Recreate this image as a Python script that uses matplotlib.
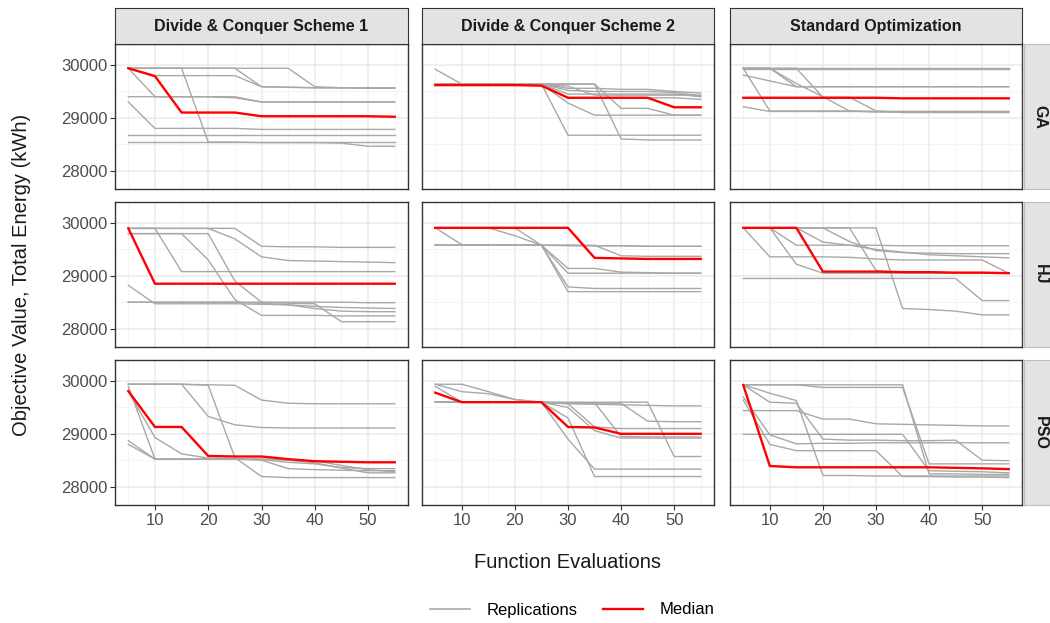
import matplotlib
matplotlib.use("Agg")
import matplotlib.pyplot as plt
from matplotlib.lines import Line2D

plt.rcParams['font.family'] = ['Liberation Sans', 'DejaVu Sans']

# function evaluations (x) shared by every facet
EVALS = [5, 10, 15, 20, 25, 30, 35, 40, 45, 50, 55]
SCHEMES = ["Divide & Conquer Scheme 1", "Divide & Conquer Scheme 2", "Standard Optimization"]
ALGOS = ["GA", "HJ", "PSO"]

# ---- GA ----
GA_DC1 = [
    [29940, 29940, 29940, 29940, 29940, 29590, 29580, 29570, 29570, 29570, 29570],
    [29940, 29940, 29940, 29940, 29940, 29940, 29940, 29590, 29570, 29560, 29560],
    [29940, 29940, 29940, 28540, 28540, 28530, 28530, 28530, 28520, 28460, 28460],
    [29940, 29800, 29800, 29800, 29800, 29590, 29580, 29570, 29570, 29570, 29570],
    [29400, 29400, 29400, 29400, 29380, 29300, 29300, 29300, 29300, 29300, 29300],
    [29300, 28800, 28800, 28800, 28800, 28780, 28780, 28780, 28780, 28780, 28780],
    [28670, 28670, 28670, 28670, 28670, 28670, 28670, 28670, 28670, 28670, 28670],
    [28550, 28550, 28550, 28550, 28550, 28550, 28550, 28550, 28550, 28550, 28550],
    [29940, 29400, 29400, 29400, 29400, 29300, 29300, 29300, 29300, 29300, 29300],
]
GA_DC1_MED = [29940, 29790, 29100, 29100, 29100, 29030, 29030, 29030, 29030, 29030, 29020]

GA_DC2 = [
    [29920, 29640, 29640, 29640, 29640, 29560, 29560, 29540, 29540, 29500, 29470],
    [29640, 29640, 29640, 29640, 29640, 28670, 28670, 28670, 28670, 28670, 28670],
    [29640, 29640, 29640, 29640, 29640, 29640, 29640, 28600, 28580, 28580, 28580],
    [29640, 29640, 29640, 29640, 29640, 29280, 29050, 29050, 29050, 29050, 29050],
    [29640, 29640, 29640, 29640, 29640, 29450, 29450, 29450, 29450, 29450, 29400],
    [29640, 29640, 29640, 29640, 29640, 29640, 29640, 29180, 29180, 29050, 29050],
    [29640, 29640, 29640, 29640, 29640, 29520, 29500, 29500, 29500, 29480, 29420],
    [29640, 29640, 29640, 29640, 29640, 29380, 29380, 29380, 29380, 29380, 29350],
    [29640, 29640, 29640, 29640, 29640, 29600, 29430, 29430, 29430, 29430, 29430],
]
GA_DC2_MED = [29620, 29620, 29620, 29620, 29610, 29380, 29380, 29380, 29380, 29200, 29200]

GA_SO = [
    [29940, 29940, 29940, 29940, 29940, 29940, 29940, 29940, 29940, 29940, 29940],
    [29930, 29930, 29930, 29930, 29930, 29930, 29930, 29930, 29930, 29930, 29930],
    [29940, 29940, 29590, 29590, 29590, 29590, 29590, 29590, 29590, 29590, 29590],
    [29810, 29700, 29590, 29590, 29590, 29590, 29590, 29590, 29590, 29590, 29590],
    [29940, 29130, 29130, 29130, 29130, 29120, 29120, 29120, 29120, 29120, 29120],
    [29210, 29120, 29120, 29120, 29120, 29120, 29120, 29120, 29120, 29120, 29120],
    [29940, 29940, 29650, 29400, 29130, 29110, 29110, 29110, 29110, 29110, 29110],
    [29940, 29940, 29940, 29390, 29390, 29130, 29100, 29100, 29100, 29100, 29100],
]
GA_SO_MED = [29380, 29380, 29380, 29380, 29380, 29380, 29370, 29370, 29370, 29370, 29370]

# ---- HJ ----
HJ_DC1 = [
    [29900, 29900, 29900, 29900, 29900, 29560, 29550, 29550, 29540, 29540, 29540],
    [29900, 29900, 29900, 29900, 29700, 29360, 29290, 29280, 29270, 29260, 29250],
    [29800, 29800, 29800, 29300, 28550, 28250, 28250, 28250, 28240, 28240, 28240],
    [29900, 29900, 29080, 29080, 29080, 29080, 29080, 29080, 29080, 29080, 29080],
    [28500, 28500, 28500, 28500, 28500, 28500, 28500, 28500, 28500, 28490, 28490],
    [28820, 28470, 28470, 28470, 28470, 28460, 28450, 28420, 28400, 28390, 28380],
    [29800, 29800, 29800, 29800, 28900, 28500, 28480, 28470, 28130, 28130, 28130],
    [28500, 28500, 28500, 28500, 28500, 28480, 28450, 28380, 28330, 28320, 28320],
]
HJ_DC1_MED = [29900, 28850, 28850, 28850, 28850, 28850, 28850, 28850, 28850, 28850, 28850]

HJ_DC2 = [
    [29580, 29580, 29580, 29580, 29580, 29580, 29570, 29570, 29560, 29560, 29560],
    [29910, 29590, 29580, 29580, 29580, 29570, 29570, 29570, 29560, 29560, 29560],
    [29910, 29910, 29910, 29760, 29580, 29140, 29140, 29070, 29060, 29050, 29050],
    [29910, 29910, 29910, 29910, 29580, 29050, 29050, 29050, 29050, 29050, 29050],
    [29580, 29580, 29580, 29580, 29580, 28790, 28760, 28760, 28760, 28760, 28760],
    [29580, 29580, 29580, 29580, 29580, 28700, 28700, 28700, 28700, 28700, 28700],
    [29580, 29580, 29580, 29580, 29580, 29580, 29580, 29380, 29370, 29370, 29370],
]
HJ_DC2_MED = [29910, 29910, 29910, 29910, 29910, 29910, 29340, 29330, 29320, 29320, 29320]

HJ_SO = [
    [29910, 29360, 29360, 29360, 29350, 29320, 29300, 29300, 29300, 29300, 29050],
    [29910, 29910, 29580, 29580, 29580, 29580, 29570, 29570, 29570, 29570, 29570],
    [29910, 29910, 29220, 29050, 29050, 29050, 29050, 29050, 29050, 29050, 29050],
    [29910, 29910, 29910, 29910, 29650, 29480, 29440, 29430, 29420, 29420, 29420],
    [29910, 29910, 29910, 29910, 29910, 29100, 29060, 29060, 29060, 29060, 29060],
    [29910, 29910, 29910, 29910, 29910, 29910, 28380, 28360, 28330, 28260, 28260],
    [28950, 28950, 28950, 28950, 28950, 28950, 28950, 28950, 28950, 28530, 28530],
    [29910, 29910, 29910, 29640, 29580, 29500, 29450, 29400, 29380, 29360, 29340],
]
HJ_SO_MED = [29910, 29910, 29910, 29080, 29080, 29080, 29070, 29070, 29060, 29060, 29050]

# ---- PSO ----
PSO_DC1 = [
    [29940, 29940, 29940, 29930, 29920, 29640, 29580, 29570, 29570, 29570, 29570],
    [29940, 29940, 29940, 29330, 29170, 29120, 29110, 29110, 29110, 29110, 29110],
    [29940, 29940, 29940, 29920, 28550, 28190, 28170, 28170, 28170, 28170, 28170],
    [29900, 28520, 28520, 28520, 28520, 28500, 28340, 28320, 28310, 28300, 28300],
    [28870, 28520, 28520, 28520, 28520, 28520, 28510, 28490, 28400, 28320, 28280],
    [28800, 28520, 28520, 28520, 28520, 28520, 28500, 28450, 28350, 28260, 28260],
    [29800, 28930, 28620, 28540, 28530, 28510, 28460, 28430, 28360, 28340, 28340],
]
PSO_DC1_MED = [29810, 29130, 29130, 28580, 28570, 28570, 28520, 28480, 28470, 28460, 28460]

PSO_DC2 = [
    [29940, 29940, 29800, 29650, 29600, 29570, 29560, 29550, 29540, 29530, 29530],
    [29940, 29800, 29760, 29650, 29600, 29580, 29580, 29580, 29240, 29230, 29230],
    [29600, 29600, 29600, 29600, 29600, 29600, 29600, 29600, 29600, 28570, 28570],
    [29600, 29600, 29600, 29600, 29600, 29570, 29130, 29100, 29100, 29100, 29100],
    [29600, 29600, 29600, 29600, 29600, 29500, 29060, 28920, 28920, 28920, 28920],
    [29600, 29600, 29600, 29600, 29600, 28900, 28330, 28330, 28330, 28330, 28330],
    [29600, 29600, 29600, 29600, 29600, 29300, 28190, 28190, 28190, 28190, 28190],
    [29900, 29600, 29600, 29600, 29600, 29590, 29590, 28950, 28940, 28940, 28940],
]
PSO_DC2_MED = [29780, 29600, 29600, 29600, 29600, 29130, 29120, 29000, 29000, 29000, 29000]

PSO_SO = [
    [29930, 29930, 29930, 29880, 29880, 29880, 29880, 28430, 28430, 28430, 28430],
    [29930, 29930, 29930, 29930, 29930, 29930, 29930, 28240, 28240, 28230, 28230],
    [29930, 29770, 29630, 28210, 28210, 28200, 28200, 28200, 28200, 28200, 28200],
    [29440, 29440, 29440, 29280, 29280, 29190, 29180, 29170, 29160, 29150, 29150],
    [28990, 28990, 28990, 28990, 28990, 28990, 28990, 28300, 28290, 28280, 28260],
    [29640, 28800, 28680, 28680, 28680, 28680, 28190, 28190, 28180, 28180, 28170],
    [29930, 29600, 29580, 28900, 28880, 28880, 28870, 28870, 28880, 28500, 28490],
    [29700, 28980, 28810, 28820, 28820, 28830, 28830, 28830, 28830, 28830, 28830],
]
PSO_SO_MED = [29925, 28390, 28365, 28365, 28365, 28365, 28365, 28365, 28355, 28345, 28330]

REPS = {
    ("GA", 0): GA_DC1, ("GA", 1): GA_DC2, ("GA", 2): GA_SO,
    ("HJ", 0): HJ_DC1, ("HJ", 1): HJ_DC2, ("HJ", 2): HJ_SO,
    ("PSO", 0): PSO_DC1, ("PSO", 1): PSO_DC2, ("PSO", 2): PSO_SO,
}
MEDS = {
    ("GA", 0): GA_DC1_MED, ("GA", 1): GA_DC2_MED, ("GA", 2): GA_SO_MED,
    ("HJ", 0): HJ_DC1_MED, ("HJ", 1): HJ_DC2_MED, ("HJ", 2): HJ_SO_MED,
    ("PSO", 0): PSO_DC1_MED, ("PSO", 1): PSO_DC2_MED, ("PSO", 2): PSO_SO_MED,
}

W, H = 1050, 623
fig = plt.figure(figsize=(W / 100, H / 100), dpi=100)


def rect(x0, y0, x1, y1):
    return [x0 / W, 1 - y1 / H, (x1 - x0) / W, (y1 - y0) / H]


COLS = [(115, 408), (422, 714), (730, 1022)]
ROWS = [(44, 189), (202, 347), (360, 505)]
STRIP_TOP = (8, 44)
STRIP_RIGHT = (1024, 1056)   # runs a bit off the right edge like the reference
GREY = '#a8a8a8'
BORDER = '#333333'
STRIP_BG = '#e3e3e3'

for r, algo in enumerate(ALGOS):
    for c in range(3):
        x0, x1 = COLS[c]
        y0, y1 = ROWS[r]
        ax = fig.add_axes(rect(x0, y0, x1, y1))
        for rep in REPS[(algo, c)]:
            ax.plot(EVALS, rep, color=GREY, lw=1.0, zorder=2)
        ax.plot(EVALS, MEDS[(algo, c)], color='#ff0000', lw=1.7, zorder=3)

        ax.set_xlim(2.5, 57.5)
        ax.set_ylim(27650, 30400)
        ax.set_xticks([10, 20, 30, 40, 50])
        ax.set_xticks([5, 15, 25, 35, 45, 55], minor=True)
        ax.set_yticks([28000, 29000, 30000])
        ax.set_yticks([28500, 29500], minor=True)
        ax.grid(True, which='major', color='#ebebeb', lw=1.1, zorder=0)
        ax.grid(True, which='minor', color='#f3f3f3', lw=0.6, zorder=0)
        ax.set_axisbelow(True)
        for s in ax.spines.values():
            s.set_color(BORDER)
            s.set_linewidth(1.0)
        ax.tick_params(which='minor', length=0)
        ax.tick_params(which='major', length=3.5, color=BORDER, labelsize=12,
                       labelcolor='#4d4d4d', pad=2)
        if c != 0:
            ax.tick_params(axis='y', left=False, labelleft=False)
        if r != 2:
            ax.tick_params(axis='x', bottom=False, labelbottom=False)

        # column strips on top
        if r == 0:
            sax = fig.add_axes(rect(x0, STRIP_TOP[0], x1, STRIP_TOP[1]))
            sax.set_facecolor(STRIP_BG)
            sax.set_xticks([])
            sax.set_yticks([])
            for s in sax.spines.values():
                s.set_color(BORDER)
            sax.text(0.5, 0.5, SCHEMES[c], ha='center', va='center',
                     fontsize=11.5, fontweight='bold', color='#1a1a1a',
                     transform=sax.transAxes)

    # row strips on the right
    y0, y1 = ROWS[r]
    sax = fig.add_axes(rect(STRIP_RIGHT[0], y0, STRIP_RIGHT[1], y1))
    sax.set_facecolor(STRIP_BG)
    sax.set_xticks([])
    sax.set_yticks([])
    for s in sax.spines.values():
        s.set_color('#bdbdbd')
    sax.text(0.5, 0.5, algo, ha='center', va='center', rotation=-90,
             fontsize=11.5, fontweight='bold', color='#1a1a1a',
             transform=sax.transAxes)

fig.text(22 / W, 1 - 275 / H, 'Objective Value, Total Energy (kWh)', rotation=90,
         ha='center', va='center', fontsize=14.5, color='#1a1a1a')
fig.text(568 / W, 1 - 563 / H, 'Function Evaluations', ha='center', va='center',
         fontsize=14.5, color='#1a1a1a')

handles = [Line2D([], [], color=GREY, lw=1.2), Line2D([], [], color='#ff0000', lw=1.7)]
fig.legend(handles, ['Replications', 'Median'], loc='center',
           bbox_to_anchor=(572 / W, 1 - 610 / H), ncol=2, frameon=False,
           fontsize=12, handlelength=2.4, columnspacing=1.5, handletextpad=1.0)

fig.savefig('out.png', dpi=100)
